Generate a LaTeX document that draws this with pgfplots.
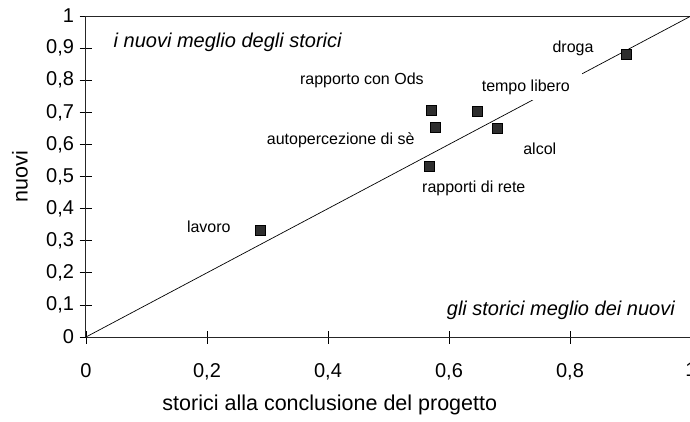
\documentclass[border=0pt]{standalone}
\usepackage{fontspec}
\setmainfont{Liberation Sans}
\usepackage{pgfplots}
\pgfplotsset{compat=1.18}
\begin{document}
\begin{tikzpicture}
\begin{axis}[name=ax, scale only axis, width=605pt, height=321pt,
  xmin=0, xmax=1, ymin=0, ymax=1,
  axis lines*=left, clip=false,
  xtick={0,0.2,0.4,0.6,0.8,1}, ytick={0,0.1,0.2,0.3,0.4,0.5,0.6,0.7,0.8,0.9,1},
  tick align=center, major tick length=13pt,
  axis line style={line width=1pt, black!85},
  tick style={line width=0.8pt, black},
  /pgf/number format/use comma,
  /pgf/number format/assume math mode=true,
  ticklabel style={font=\fontsize{20}{22}\selectfont},
  xticklabel style={yshift=-16pt},
  yticklabel style={xshift=-2pt},
  xlabel={storici alla conclusione del progetto},
  ylabel={nuovi},
  label style={font=\fontsize{21.5}{24}\selectfont},
  xlabel style={at={(axis description cs:0.403,-0.212)}, anchor=center},
  ylabel style={at={(axis description cs:-0.109,0.5)}, anchor=center},
]
\draw[line width=1pt, black!85] (axis cs:0,1) -- (axis cs:1,1);
\addplot[black, line width=0.7pt] coordinates {(0,0) (1,1)};
\node[fill=white, inner xsep=12pt, inner ysep=6pt, font=\fontsize{16}{19}\selectfont] at (axis cs:0.727,0.779) {tempo libero};
\node[font=\fontsize{16}{19}\selectfont] at (axis cs:0.805,0.900) {droga};
\node[font=\fontsize{16}{19}\selectfont] at (axis cs:0.456,0.801) {rapporto con Ods};
\node[font=\fontsize{16}{19}\selectfont] at (axis cs:0.421,0.614) {autopercezione di sè};
\node[font=\fontsize{16}{19}\selectfont] at (axis cs:0.750,0.586) {alcol};
\node[font=\fontsize{16}{19}\selectfont] at (axis cs:0.641,0.464) {rapporti di rete};
\node[font=\fontsize{16}{19}\selectfont] at (axis cs:0.203,0.343) {lavoro};
\node[anchor=west, font=\fontsize{20}{24}\selectfont\itshape] at (axis cs:0.040,0.919) {i nuovi meglio degli storici};
\node[anchor=east, font=\fontsize{20}{24}\selectfont\itshape] at (axis cs:0.979,0.084) {gli storici meglio dei nuovi};
\addplot[only marks, mark=square*, mark size=5pt, mark options={fill=black!82, draw=black, line width=0.5pt}] coordinates {
(0.893,0.882) (0.570,0.707) (0.646,0.704) (0.577,0.654) (0.679,0.651) (0.567,0.533) (0.288,0.333)};
\end{axis}
\pgfresetboundingbox
\path ([xshift=-86pt,yshift=-84pt]ax.south west) rectangle ([xshift=-1pt,yshift=16pt]ax.north east);
\end{tikzpicture}
\end{document}
